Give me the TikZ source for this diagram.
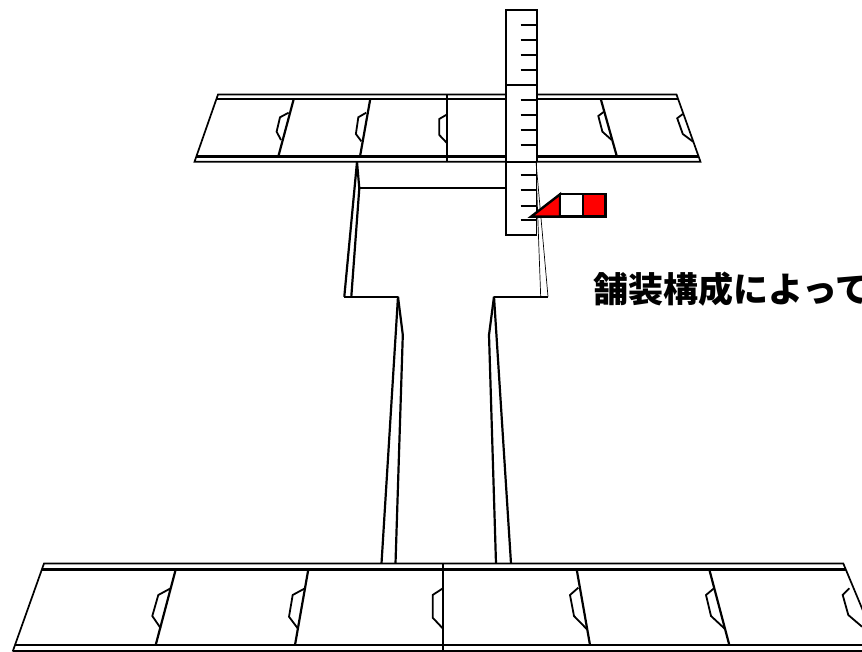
\documentclass[tikz,border=0pt]{standalone}
\usepackage{fontspec}
\newfontfamily\cjkblack[BoldFont={Noto Sans CJK JP Black}]{Noto Sans CJK JP}
\tikzset{
  road/.style={line width=2.2pt,line join=miter},
  roadtop/.style={line width=1.7pt,line join=miter},
  notch/.style={line width=1.8pt,line join=miter},
  thinl/.style={line width=0.7pt},
  scalebox/.style={line width=2.2pt,fill=white},
  tick/.style={line width=2pt},
  flagpart/.style={line width=2.4pt,line join=miter,draw=black}
}
\begin{document}
\begin{tikzpicture}[x=1pt,y=-1pt]
\clip (0,0) rectangle (862,652);
\fill[white] (0,0) rectangle (862,652);
% upper road
\draw[roadtop] (194.5,161.8) -- (218,94.5) -- (676.5,94.5) -- (700.5,161.8) -- cycle;
\draw[road] (216.5,98.8) -- (678,98.8);
\draw[road] (196.5,156.6) -- (698.5,156.6);
\draw[road] (293.8,98.8) -- (278.3,156.6);
\draw[road] (370.3,98.8) -- (360,156.6);
\draw[road] (447.2,94.5) -- (447.2,161.8);
\draw[road] (600.7,98.8) -- (616.9,156.6);
\foreach \a/\b/\c/\d in {{288.6,112.7}/{280,117.3}/{276.6,131.7}/{281,140},
  {366.2,112.7}/{358.3,117.3}/{355.9,134}/{361.4,141.3},
  {447.2,114.3}/{439.3,119}/{439.3,135}/{447.2,143.3},
  {604,111.7}/{598.3,116}/{602.4,131.7}/{611.7,140},
  {682.8,114}/{677.2,118.3}/{682.8,134}/{693,141.7}}
  \draw[notch] (\a) -- (\b) -- (\c) -- (\d);
% stem
\draw[road] (357,162) -- (344.3,296.7);
\draw[road] (357,162) -- (359.3,188.3) -- (351.3,296.7);
\draw[road] (359.3,188.3) -- (506,188.3);
\draw[road] (344.3,296.7) -- (398,296.7);
\draw[road] (494,296.7) -- (548,296.7);
\draw[road] (398,296.7) -- (381.5,563.5);
\draw[road] (398,296.7) -- (402.8,335) -- (395.5,563.5);
\draw[road] (494,296.7) -- (489,335) -- (496,563.5);
\draw[road] (494,296.7) -- (511,563.5);
% ruler
\fill[white] (506,10) rectangle (536.7,235);
\draw[scalebox] (536.7,162) -- (536.7,10) -- (506,10) -- (506,235) -- (537.3,235);
\draw[scalebox] (506,85) -- (536.7,85);
\draw[scalebox] (506,162) -- (536.7,162);
\foreach \y in {25,40,55,70,100,115,130,145,175.3,190.3,205.7,220.3}
  \draw[tick] (520.5,\y) -- (537.3,\y);
\draw[thinl] (536.7,162) -- (536.7,235);
\draw[thinl] (536,162) -- (548,296.7);
\draw[thinl] (536.7,188) -- (540.7,296.7);
% flag
\draw[flagpart,fill=red] (531,216.7) -- (560,194.3) -- (560,216.7) -- cycle;
\draw[flagpart,fill=white] (560,194.3) rectangle (582.7,216.7);
\draw[flagpart,fill=red] (582.7,194.3) rectangle (605.3,216.7);
% lower road
\draw[roadtop] (12.7,651.5) -- (44,563.5) -- (843.3,563.5) -- (880,651.5);
\draw[roadtop] (12.7,651) -- (880,651);
\draw[road] (42,569.5) -- (846,569.5);
\draw[road] (15,645) -- (870,645);
\draw[road] (175.7,569.5) -- (155.7,645);
\draw[road] (308.3,569.5) -- (295,645);
\draw[road] (443.3,563.5) -- (443.3,652);
\draw[road] (576.7,569.5) -- (590,645);
\draw[road] (709.3,569.5) -- (729.3,645);
\foreach \a/\b/\c/\d in {{170.7,588.3}/{158.3,595}/{152.3,616}/{160.7,628.3},
  {305,588.3}/{292.7,595}/{289,616.7}/{297.7,628.3},
  {443.3,588}/{432.7,595}/{432.7,617.7}/{443.3,629},
  {578.3,587.7}/{570,595}/{574,616}/{586.7,629},
  {714,588.3}/{706,595}/{711,616}/{725,629},
  {849.3,588.3}/{842.7,595}/{848.3,615}/{862,626.7}}
  \draw[notch] (\a) -- (\b) -- (\c) -- (\d);
% label
\node[anchor=base west,inner sep=0pt,font=\cjkblack\bfseries\fontsize{35}{35}\selectfont] (lbl) at (593.5,303) {舗装構成によって};
\end{tikzpicture}
\end{document}
